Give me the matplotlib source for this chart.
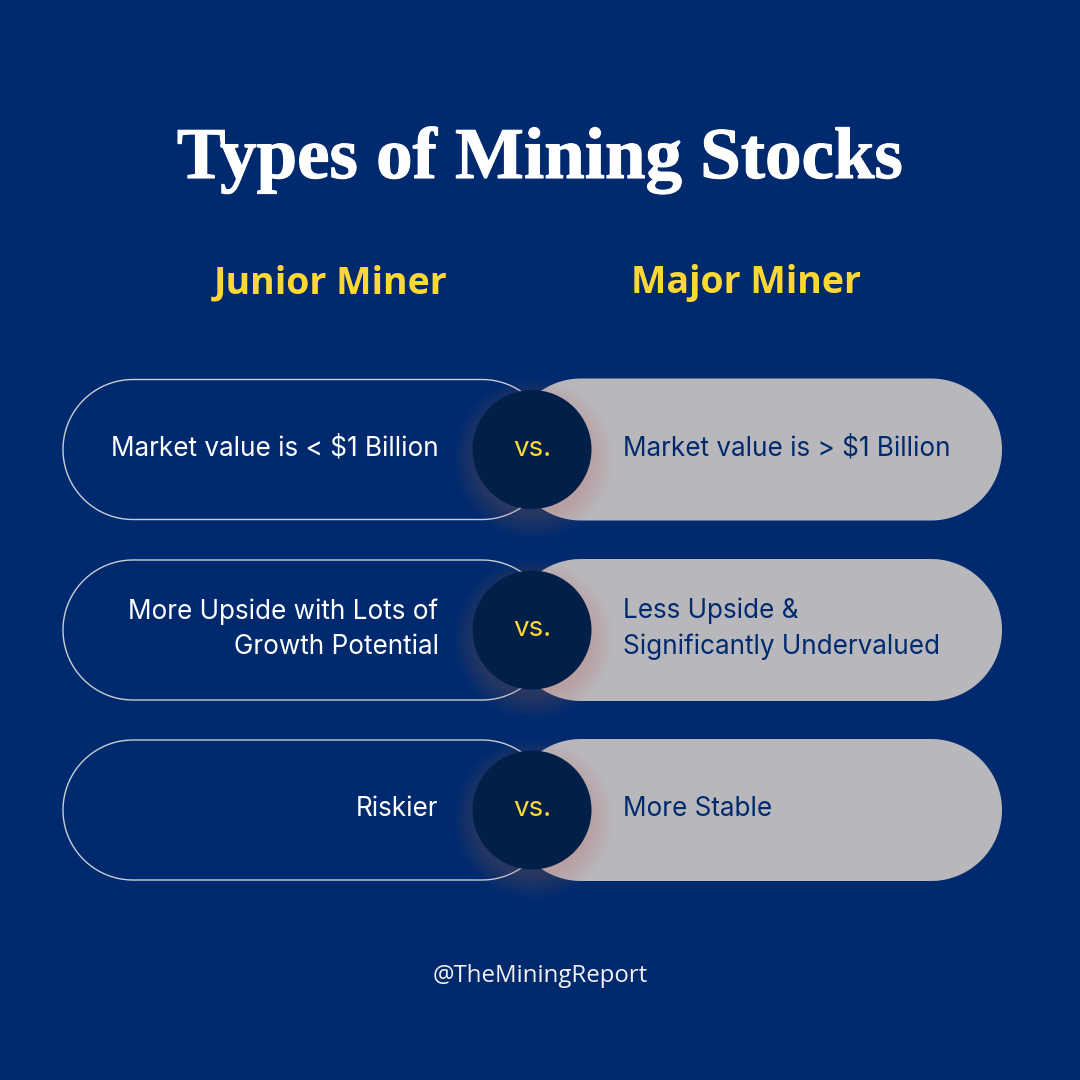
import numpy as np
import matplotlib
matplotlib.use("Agg")
import matplotlib.pyplot as plt
import matplotlib.patheffects as pe
from matplotlib.patches import Polygon, Circle

BG = "#012a6e"
GREY = "#b8b8bc"
DARK = "#021f47"
YELLOW = "#fdd835"

title = "Types of Mining Stocks"
left_head = "Junior Miner"
right_head = "Major Miner"
left_text = ["Market value is < $1 Billion", "More Upside with Lots of\nGrowth Potential", "Riskier"]
right_text = ["Market value is > $1 Billion", "Less Upside &\nSignificantly Undervalued", "More Stable"]
handle = "@TheMiningReport"


# real semicircle ends, FancyBboxPatch gives squarish corners
def pill(x0, x1, yc, r):
    t = np.linspace(-np.pi / 2, np.pi / 2, 80)
    right = np.c_[x1 - r + r * np.cos(t), yc + r * np.sin(t)]
    left = np.c_[x0 + r - r * np.cos(t[::-1]), yc + r * np.sin(t[::-1])]
    return np.vstack([right, left])


fig = plt.figure(figsize=(10.8, 10.8), dpi=100, facecolor=BG)
ax = fig.add_axes([0, 0, 1, 1])
ax.set_xlim(0, 1080)
ax.set_ylim(1080, 0)
ax.axis("off")

ax.text(540, 160, title, color="white", fontsize=52.5, fontweight="bold",
        family="Liberation Serif", ha="center", va="center",
        path_effects=[pe.withStroke(linewidth=0.8, foreground="white")])
ax.text(331, 293, left_head, color=YELLOW, fontsize=27, fontweight="bold",
        family="Open Sans", ha="center", va="baseline")
ax.text(746, 293, right_head, color=YELLOW, fontsize=27, fontweight="bold",
        family="Open Sans", ha="center", va="baseline")

rows = [449.5, 630, 810]
for y, lt, rt in zip(rows, left_text, right_text):
    ax.add_patch(Polygon(pill(63, 552, y, 70), closed=True, fc="none", ec="#c9cdd6", lw=1, zorder=2))
    ax.add_patch(Polygon(pill(510, 1002, y, 71), closed=True, fc=GREY, ec="none", zorder=3))
    # soft reddish glow, sits low behind the circle
    for r in range(56, 82, 2):
        ax.add_patch(Circle((534, y + 9), r, fc="#c8705f", ec="none", alpha=0.018, zorder=3.5))
    ax.add_patch(Circle((532, y), 59.5, fc=DARK, ec="none", zorder=4))
    ax.text(532, y - 1, "vs.", color=YELLOW, fontsize=20, family="Inter",
            ha="center", va="center", zorder=5)
    ax.text(438.5, y - 1, lt, color="white", fontsize=18.8, family="Inter",
            ha="right", va="center", linespacing=1.47, zorder=5)
    ax.text(623, y - 1, rt, color=BG, fontsize=18.8, family="Inter",
            ha="left", va="center", linespacing=1.47, zorder=5)

ax.text(540, 976, handle, color="#f2f2f2", fontsize=17.3, family="Open Sans",
        ha="center", va="center")

fig.savefig("out.png", dpi=100, facecolor=BG)
